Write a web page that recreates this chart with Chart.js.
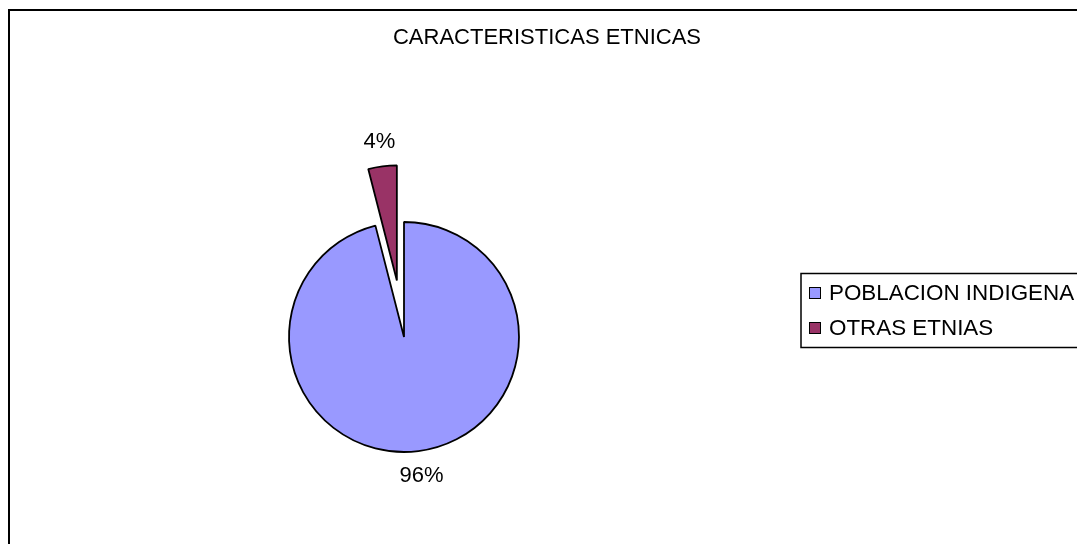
<!DOCTYPE html>
<html>
<head>
<meta charset="utf-8">
<script src="https://cdn.jsdelivr.net/npm/chart.js@4/dist/chart.umd.min.js"></script>
<style>
  html, body { margin: 0; padding: 0; background: #fff; }
  #wrap { width: 1077px; height: 544px; }
</style>
</head>
<body>
<div id="wrap"><canvas id="c" width="1077" height="544"></canvas></div>
<script>
const chartTitle = "CARACTERISTICAS ETNICAS";
const categories = ["POBLACION INDIGENA", "OTRAS ETNIAS"];
const values = [96, 4];
const valueLabels = ["96%", "4%"];

// styles
const colors = ["#9999FF", "#993366"];
const EXPLODE_PX = [0, 57];
const FONT = '"Liberation Sans", Arial, sans-serif';

const ArcProto = Chart.ArcElement.prototype;

const explodePlugin = {
  id: 'explode',
  beforeDatasetDraw(chart, args) {
    args.meta.data.forEach((arc, i) => {
      if (arc._explodeWrapped) return;
      arc._explodeWrapped = true;
      arc.draw = function (ctx) {
        const e = EXPLODE_PX[i] || 0;
        const mid = (this.startAngle + this.endAngle) / 2;
        ctx.save();
        ctx.translate(Math.cos(mid) * e, Math.sin(mid) * e);
        ArcProto.draw.call(this, ctx);
        ctx.restore();
      };
    });
  }
};

const framePlugin = {
  id: 'frame',
  beforeDraw(chart) {
    const ctx = chart.ctx;
    ctx.save();
    ctx.fillStyle = '#fff';
    ctx.fillRect(0, 0, chart.width, chart.height);
    ctx.strokeStyle = '#000';
    ctx.lineWidth = 2;
    ctx.strokeRect(9, 10, 1300, 800);
    ctx.fillStyle = '#000';
    ctx.font = '22px ' + FONT;
    ctx.textAlign = 'center';
    ctx.textBaseline = 'middle';
    ctx.fillText(chartTitle, 547, 38);
    ctx.restore();
  },
  afterDraw(chart) {
    const ctx = chart.ctx;
    const meta = chart.getDatasetMeta(0);
    ctx.save();
    ctx.fillStyle = '#000';
    ctx.font = '22px ' + FONT;
    ctx.textAlign = 'center';
    ctx.textBaseline = 'middle';
    meta.data.forEach((arc, i) => {
      const p = arc.getProps(['x', 'y', 'startAngle', 'endAngle', 'outerRadius'], true);
      const mid = (p.startAngle + p.endAngle) / 2;
      const d = p.outerRadius + (EXPLODE_PX[i] || 0) + 25;
      ctx.fillText(valueLabels[i], p.x + Math.cos(mid) * d, p.y + Math.sin(mid) * d);
    });
    // legend
    ctx.strokeStyle = '#000';
    ctx.lineWidth = 1.5;
    ctx.strokeRect(801, 273.5, 400, 74);
    ctx.font = '22.4px ' + FONT;
    ctx.textAlign = 'left';
    categories.forEach((lab, i) => {
      const cy = 293 + i * 35;
      ctx.fillStyle = colors[i];
      ctx.fillRect(809, cy - 6, 12, 12);
      ctx.lineWidth = 1;
      ctx.strokeStyle = '#000';
      ctx.strokeRect(809.5, cy - 5.5, 11, 11);
      ctx.fillStyle = '#000';
      ctx.fillText(lab, 829, cy + 1);
    });
    ctx.restore();
  }
};

new Chart(document.getElementById('c'), {
  type: 'pie',
  data: {
    labels: categories,
    datasets: [{
      data: values,
      backgroundColor: colors,
      borderColor: '#000',
      borderWidth: 1.8,
      radius: 115
    }]
  },
  options: {
    responsive: false,
    animation: false,
    layout: { padding: { left: 0, right: 269, top: 130, bottom: 0 } },
    plugins: {
      legend: { display: false },
      title: { display: false },
      tooltip: { enabled: false }
    }
  },
  plugins: [explodePlugin, framePlugin]
});
</script>
</body>
</html>
